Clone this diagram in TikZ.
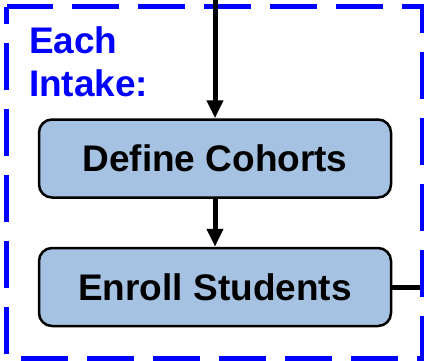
\documentclass[tikz,border=0pt]{standalone}
\usepackage{fontspec}
\setmainfont{Liberation Sans}
\usetikzlibrary{arrows.meta,positioning}
\definecolor{boxblue}{RGB}{165,194,226}
\tikzstyle{bt} = [rectangle, draw, fill=boxblue, line width=2.5pt,
    minimum width=352pt, minimum height=78pt, rounded corners=13pt,
    font=\bfseries\fontsize{37}{43}\selectfont]
\tikzstyle{lbl} = [text=blue, align=left, inner sep=0pt,
    font=\bfseries\fontsize{37}{43}\selectfont]
\tikzstyle{frame} = [-, draw=blue, line width=5pt,
    dash pattern=on 47pt off 19pt, dash phase=30pt]

\begin{document}
\begin{tikzpicture}[->,>={Triangle[length=18pt,width=16pt]},x=1pt,y=-1pt,
                    line width=5pt,node distance=128.5pt]
  \useasboundingbox (0,0) rectangle (424,360);
  \path[frame] (6.5,6.5) rectangle (422,358);

  \node[lbl, anchor=base west] (0) at (26.5,96.5) {Each\\Intake:};
  \node[bt]           (1) at (215,158.5)  {Define Cohorts};
  \node[bt]           (2) [below of=1]    {Enroll Students};
  \coordinate (in)  at (215,0);
  \coordinate (out) at (419.5,287);

  \path (in) edge (1)
        (1) edge (2)
        (2) edge[-] (out);
\end{tikzpicture}
\end{document}
